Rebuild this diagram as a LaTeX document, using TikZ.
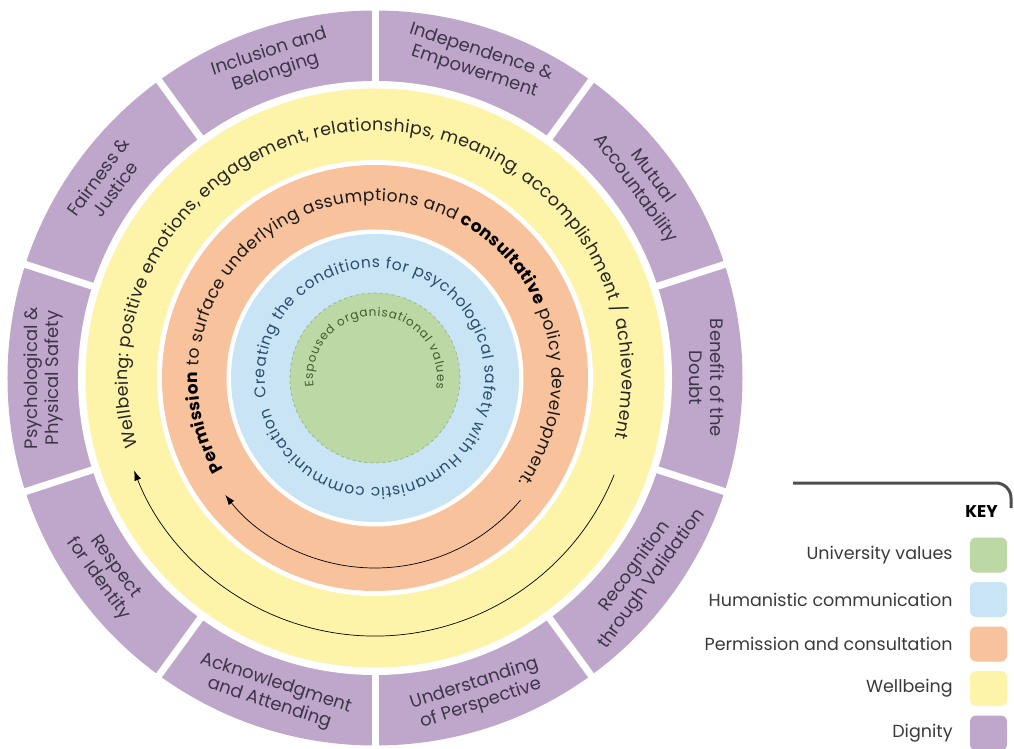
\documentclass[tikz,border=0pt]{standalone}
\usepackage{fontspec}
\setmainfont{Poppins}
\usetikzlibrary{arrows.meta, decorations.text, positioning}
\tikzset{>={Latex[length=10pt, width=7pt]}}

\definecolor{dignity}{HTML}{BFA7CC}
\definecolor{wellbeing}{HTML}{FDF3A9}
\definecolor{permission}{HTML}{F8C29C}
\definecolor{humanistic}{HTML}{C8E4F5}
\definecolor{university}{HTML}{BCD8A4}
\definecolor{unirim}{HTML}{8FAF7C}
\definecolor{segtext}{HTML}{3D3548}
\definecolor{bluetext}{HTML}{2A4D6E}
\definecolor{greentext}{HTML}{3F5E2E}
\definecolor{keygray}{HTML}{3A3A3A}

\newcommand\wellfont{\fontsize{17.5}{19}\selectfont\color{black!85}}
\newcommand\permfont{\fontsize{17}{19}\selectfont\mdseries\color{black!90}}
\newcommand\permbold{\fontsize{17}{19}\selectfont\bfseries\color{black}}
\newcommand\humfont{\fontsize{15.5}{17}\selectfont\color{bluetext}}
\newcommand\unifont{\fontsize{12}{14}\selectfont\color{greentext}}

\tikzset{
	seglabel/.style={font=\fontsize{18}{21}\selectfont, text=segtext, align=center, inner sep=0pt},
	swatch/.style={minimum width=37pt, minimum height=35pt, rounded corners=6pt, inner sep=0pt},
	keytext/.style={font=\fontsize{17.5}{20}\selectfont, text=keygray, inner sep=0pt},
	ringtext/.style={decorate, decoration={text along path, text align=fit to path, text={#1}}}
}

\begin{document}
\begin{tikzpicture}[x=1pt, y=1pt]
	\useasboundingbox (-375,-371) rectangle (639,378);
	% rings, outside in
	\fill[dignity] (0,0) circle [radius=367.5];
	\fill[white] (0,0) circle [radius=297];
	\foreach \a in {18,54,...,342}
	\draw[white, line width=7pt] (\a:290) -- (\a:372);
	\fill[wellbeing] (0,0) circle [radius=289.5];
	\fill[white] (0,0) circle [radius=218];
	\fill[permission] (0,0) circle [radius=213];
	\fill[white] (0,0) circle [radius=148.5];
	\fill[humanistic] (0,0) circle [radius=144];
	\fill[university] (0,0) circle [radius=85];
	\draw[unirim, dashed, line width=0.6pt] (0,0) circle [radius=85];
	% dignity segments
	\foreach \a/\txt [count=\i] in {0/{Benefit of the\\Doubt}, 36/{Mutual\\Accountability}, 72/{Independence \&\\Empowerment}, 108/{Inclusion and\\Belonging}, 144/{Fairness \&\\Justice}, 180/{Psychological \&\\Physical Safety}, -144/{Respect\\for Identity}, -108/{Acknowledgment\\and Attending}, -72/{Understanding\\of Perspective}, -36/{Recognition\\through Validation}}{
		\pgfmathsetmacro\rot{\a>=0 ? \a-90 : \a+90}
		\node[seglabel, rotate=\rot] (seg\i) at (\a:332) {\txt};
	}
	% ring texts
	\path[ringtext={|\wellfont|Wellbeing: positive emotions, engagement, relationships, meaning, accomplishment / achievement}] (196:247) arc [start angle=196, end angle=-14, radius=247];
	\path[ringtext={|\permbold|Permission|\permfont| to surface underlying assumptions and |\permbold|consultative|\permfont| policy development.}] (211:177) arc [start angle=211, end angle=-36, radius=177];
	\path[ringtext={|\humfont|Creating the conditions for psychological safety with Humanistic communication}] (190:110) arc [start angle=190, end angle=-164, radius=110];
	\path[ringtext={|\unifont|Espoused organisational values}] (188:62) arc [start angle=188, end angle=-10, radius=62];
	% arrows
	\draw[->, line width=0.7pt] (-40:190) arc [start angle=-40, end angle=-142, radius=190];
	\draw[->, line width=0.7pt] (-22:258) arc [start angle=-22, end angle=-159, radius=258];
	% key
	\draw[keygray!90, line width=3pt, rounded corners=15pt] (418,-105) -- (636,-105) -- (636,-130);
	\node[font=\fontsize{17}{20}\selectfont\bfseries, text=black, anchor=east, inner sep=0pt] (key) at (623,-134) {KEY};
	\foreach \c/\t [count=\i] in {university/University values, humanistic/Humanistic communication, permission/Permission and consultation, wellbeing/Wellbeing, dignity/Dignity}{
		\pgfmathsetmacro\yy{-177-44.5*(\i-1)}
		\node[swatch, fill=\c] (sw\i) at (613.5,\yy) {};
		\node[keytext, left=17pt of sw\i] (lbl\i) {\t};
	}
\end{tikzpicture}
\end{document}
